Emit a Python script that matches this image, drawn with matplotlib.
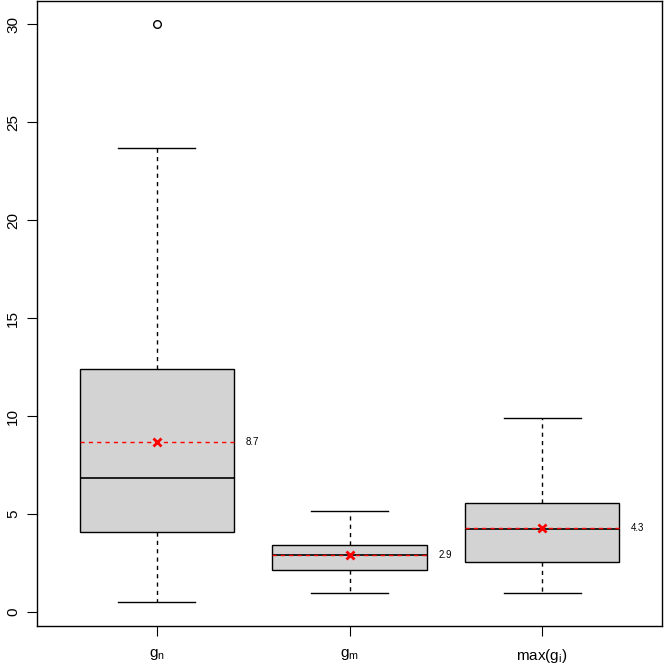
import matplotlib
matplotlib.use("Agg")
import matplotlib.pyplot as plt

plt.rcParams['font.family'] = ['Liberation Sans', 'DejaVu Sans']
plt.rcParams['mathtext.fontset'] = 'custom'
plt.rcParams['mathtext.rm'] = 'Liberation Sans'
plt.rcParams['mathtext.it'] = 'Liberation Sans'

labels = [r'$\mathrm{g_n}$', r'$\mathrm{g_m}$', r'$\mathrm{max(g_i)}$']
q1 = [4.09, 2.15, 2.57]
med = [6.85, 2.90, 4.24]
q3 = [12.40, 3.42, 5.57]
whislo = [0.50, 0.97, 0.97]
whishi = [23.70, 5.16, 9.88]
fliers = [[30.0], [], []]
means = [8.7, 2.9, 4.3]
mean_text = ['8.7', '2.9', '4.3']
yticks = [0, 5, 10, 15, 20, 25, 30]

fig = plt.figure(figsize=(6.64, 6.64), dpi=100)
ax = fig.add_axes([37/664, 38/664, 625/664, 625/664])

stats = []
for i in range(3):
    stats.append(dict(q1=q1[i], med=med[i], q3=q3[i], whislo=whislo[i],
                      whishi=whishi[i], fliers=fliers[i], label=labels[i]))

pos = [1, 2, 3]
ax.bxp(stats, positions=pos, widths=0.8, patch_artist=True, showfliers=True,
       boxprops=dict(facecolor='#d3d3d3', edgecolor='black', linewidth=1.0),
       medianprops=dict(color='black', linewidth=1.2),
       whiskerprops=dict(color='black', linestyle=(0, (3, 3)), linewidth=1.0),
       capprops=dict(color='black', linewidth=1.0),
       capwidths=0.4,
       flierprops=dict(marker='o', markerfacecolor='none', markeredgecolor='black',
                       markersize=5.5, markeredgewidth=1.0))

for i, p in enumerate(pos):
    ax.plot([p - 0.4, p + 0.4], [means[i], means[i]], color='red',
            linestyle=(0, (3, 3)), linewidth=1.0, zorder=4)
    ax.plot([p], [means[i]], marker='x', color='red', markersize=6,
            markeredgewidth=2.0, zorder=5)
    ax.text(p + 0.46, means[i], mean_text[i], fontsize=7, va='center', ha='left')

ax.set_xlim(0.377, 3.623)
ax.set_ylim(-0.72, 31.2)
ax.set_yticks(yticks)
ax.set_yticklabels([str(v) for v in yticks], rotation=90, va='center', fontsize=11)
ax.set_xticks(pos)
ax.set_xticklabels(labels, fontsize=11)
ax.tick_params(axis='both', length=7, width=0.8, color='black', pad=8)
ax.tick_params(axis='y', pad=5)
for s in ax.spines.values():
    s.set_linewidth(1.0)

fig.savefig('out.png', dpi=100)
